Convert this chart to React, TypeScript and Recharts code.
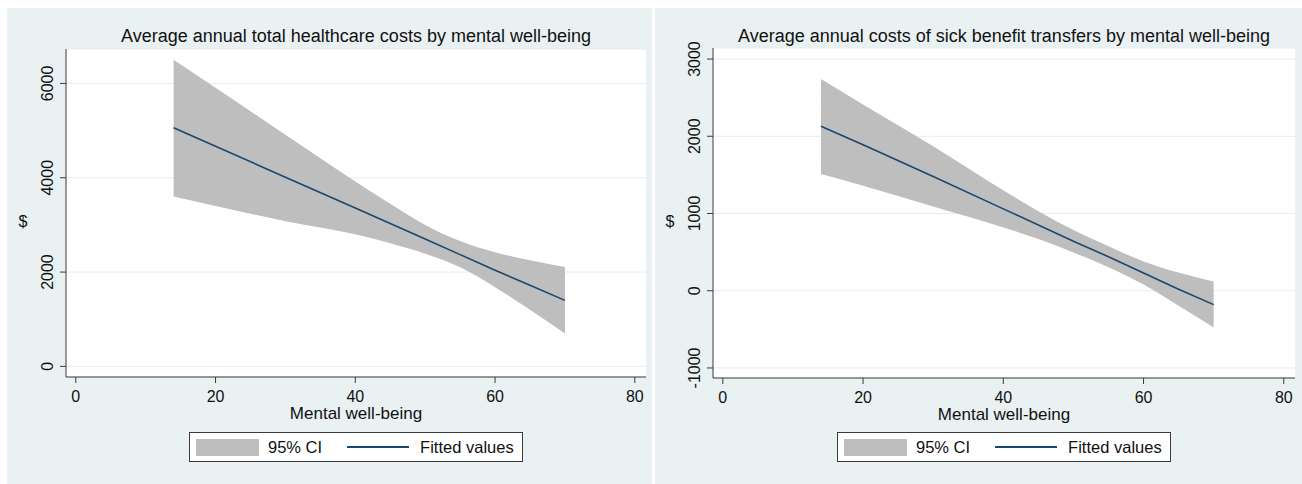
import React from "react";
import { Area, CartesianGrid, ComposedChart, Label, Line, XAxis, YAxis } from "recharts";

// x positions
const wellBeing = [14, 20, 30, 40, 45, 50, 55, 60, 65, 70];

// left panel: total healthcare costs
const healthFit = [5060, 4670, 4010, 3360, 3030, 2700, 2370, 2040, 1720, 1400];
const healthLower = [3600, 3400, 3080, 2800, 2610, 2390, 2100, 1680, 1200, 700];
const healthUpper = [6500, 5910, 4910, 3920, 3450, 3000, 2660, 2420, 2250, 2110];

// right panel: sick benefit transfers
const sickFit = [2130, 1890, 1480, 1060, 850, 640, 440, 230, 20, -180];
const sickLower = [1510, 1360, 1090, 820, 670, 495, 305, 80, -195, -475];
const sickUpper = [2740, 2410, 1870, 1300, 1030, 785, 575, 380, 235, 120];

const xTicks = [0, 20, 40, 60, 80];
const healthTicks = [0, 2000, 4000, 6000];
const sickTicks = [-1000, 0, 1000, 2000, 3000];

const BG = "#e9f1f3";
const NAVY = "#1a476f";
const BAND = "#bebebe";
const AXIS = "#3a3a3a";
const TEXT = "#111";
const FONT = "'Liberation Sans', Arial, sans-serif";

function RotatedTick(props: any) {
  const { x, y, payload } = props;
  return (
    <text
      x={x}
      y={y}
      transform={`rotate(-90 ${x} ${y})`}
      textAnchor="middle"
      fill={TEXT}
      fontSize={16}
      fontFamily={FONT}
    >
      {payload.value}
    </text>
  );
}

function DollarLabel(props: any) {
  const vb = props.viewBox;
  return (
    <text
      x={vb.x + vb.width - 43}
      y={vb.y + vb.height / 2 + 14}
      textAnchor="middle"
      fill={TEXT}
      fontSize={16}
      fontFamily={FONT}
    >
      $
    </text>
  );
}

function XTitle(props: any) {
  const vb = props.viewBox;
  return (
    <text
      x={vb.x + vb.width / 2}
      y={vb.y + 42}
      textAnchor="middle"
      fill={TEXT}
      fontSize={17}
      fontFamily={FONT}
    >
      Mental well-being
    </text>
  );
}

function LegendBox({ left, top }: { left: number; top: number }) {
  return (
    <div
      style={{
        position: "absolute",
        left,
        top,
        width: 334,
        height: 30,
        boxSizing: "border-box",
        background: "#fff",
        border: `1px solid ${AXIS}`,
        display: "flex",
        alignItems: "center",
        paddingLeft: 6,
        fontFamily: FONT,
        fontSize: 16.5,
        color: TEXT,
      }}
    >
      <div style={{ width: 63, height: 17, background: BAND }} />
      <span style={{ marginLeft: 9 }}>95% CI</span>
      <div style={{ width: 62, height: 2, background: NAVY, marginLeft: 25 }} />
      <span style={{ marginLeft: 11 }}>Fitted values</span>
    </div>
  );
}

interface PanelProps {
  left: number;
  width: number;
  title: string;
  fit: number[];
  lower: number[];
  upper: number[];
  yDomain: [number, number];
  yTicks: number[];
  margin: { top: number; right: number; bottom: number; left: number };
  legendLeft: number;
}

function Panel({ left, width, title, fit, lower, upper, yDomain, yTicks, margin, legendLeft }: PanelProps) {
  const data = wellBeing.map((x, i) => ({ x, ci: [lower[i], upper[i]], fit: fit[i] }));
  const plotLeft = margin.left + 50;
  const plotWidth = width - plotLeft - margin.right;
  return (
    <div style={{ position: "absolute", left, top: 8, width, height: 476, background: BG }}>
      <div
        style={{
          position: "absolute",
          left: plotLeft,
          width: plotWidth,
          top: 18,
          textAlign: "center",
          fontFamily: FONT,
          fontSize: 18,
          lineHeight: "21px",
          color: TEXT,
          whiteSpace: "nowrap",
        }}
      >
        {title}
      </div>
      <ComposedChart width={width} height={476} data={data} margin={margin}>
        <CartesianGrid vertical={false} stroke="#e4edf0" fill="#ffffff" />
        <XAxis
          type="number"
          dataKey="x"
          domain={[-1.4, 81.6]}
          ticks={xTicks}
          allowDataOverflow
          height={30}
          tickSize={6}
          tickMargin={8}
          stroke={AXIS}
          tick={{ fill: TEXT, fontSize: 16, fontFamily: FONT }}
        >
          <Label content={<XTitle />} />
        </XAxis>
        <YAxis
          type="number"
          domain={yDomain}
          ticks={yTicks}
          allowDataOverflow
          width={50}
          tickSize={6}
          tickMargin={6.5}
          stroke={AXIS}
          tick={<RotatedTick />}
        >
          <Label content={<DollarLabel />} />
        </YAxis>
        <Area
          dataKey="ci"
          type="monotone"
          fill={BAND}
          fillOpacity={1}
          stroke="none"
          isAnimationActive={false}
        />
        <Line
          dataKey="fit"
          type="linear"
          stroke={NAVY}
          strokeWidth={1.6}
          dot={false}
          isAnimationActive={false}
        />
      </ComposedChart>
      <LegendBox left={legendLeft} top={424} />
    </div>
  );
}

export default function App() {
  return (
    <div style={{ position: "absolute", left: 0, top: 0, width: 1302, height: 484, background: "#fff", overflow: "hidden" }}>
      <Panel
        left={7}
        width={645}
        title="Average annual total healthcare costs by mental well-being"
        fit={healthFit}
        lower={healthLower}
        upper={healthUpper}
        yDomain={[-225, 6730]}
        yTicks={healthTicks}
        margin={{ top: 41, right: 6, bottom: 77, left: 9 }}
        legendLeft={182}
      />
      <Panel
        left={655}
        width={647}
        title="Average annual costs of sick benefit transfers by mental well-being"
        fit={sickFit}
        lower={sickLower}
        upper={sickUpper}
        yDomain={[-1130, 3143]}
        yTicks={sickTicks}
        margin={{ top: 40, right: 7, bottom: 76, left: 8 }}
        legendLeft={182}
      />
    </div>
  );
}
